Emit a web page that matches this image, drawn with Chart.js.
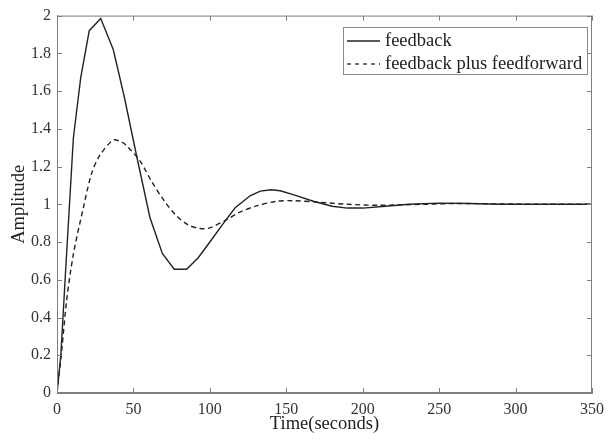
<!DOCTYPE html>
<html>
<head>
<meta charset="utf-8">
<script src="https://cdn.jsdelivr.net/npm/chart.js@4.4.0/dist/chart.umd.min.js"></script>
<style>
  html, body { margin: 0; padding: 0; background: #fff; }
  #wrap { width: 612px; height: 441px; }
</style>
</head>
<body>
<div id="wrap"><canvas id="step"></canvas></div>
<script>
// step response samples (time in seconds)
var fbTime = [0, 2.5, 5.3, 10.7, 15.5, 21.1, 28.6, 36.8, 44, 52, 60.8, 68.9, 76.7, 84.8,
              92.4, 100, 108, 116.4, 126.3, 133, 140, 146, 155, 167.7, 180, 190, 200,
              215, 230, 250, 270, 290, 320, 350];
var fbAmp  = [0, 0.2, 0.6, 1.35, 1.67, 1.92, 1.985, 1.82, 1.57, 1.26, 0.93, 0.74, 0.656, 0.656,
              0.717, 0.80, 0.89, 0.98, 1.045, 1.07, 1.077, 1.072, 1.05, 1.016, 0.99, 0.98, 0.98,
              0.99, 1.0, 1.006, 1.004, 1.0, 1.0, 1.0];

var ffTime = [0, 3.1, 6.3, 10.7, 17.2, 22.7, 28.1, 36.8, 42.3, 45.6, 54.3, 62, 70, 78, 86,
              93.5, 100, 111, 120, 130, 143.7, 154.4, 170, 190, 210, 240, 260, 290, 320, 350];
var ffAmp  = [0, 0.226, 0.49, 0.735, 0.98, 1.165, 1.26, 1.34, 1.33, 1.31, 1.23, 1.12, 1.02, 0.94, 0.89,
              0.872, 0.875, 0.919, 0.96, 0.99, 1.016, 1.019, 1.012, 1.0, 0.995, 1.0, 1.004, 1.002, 1.0, 1.0];

var seriesNames = ["feedback", "feedback plus feedforward"];
var xTickStep = 50;
var yTickStep = 0.2;

function pts(xs, ys) {
  return xs.map(function (x, i) { return { x: x, y: ys[i] }; });
}

var serif = "'Liberation Serif', 'Times New Roman', serif";
var axisGray = "#7f7f7f";

// matlab style box, inward ticks and legend inside the axes
var matlabBox = {
  id: "matlabBox",
  afterDraw: function (chart) {
    var ctx = chart.ctx, a = chart.chartArea;
    var xs = chart.scales.x, ys = chart.scales.y;
    ctx.save();
    ctx.strokeStyle = axisGray;
    ctx.lineWidth = 1;
    ctx.strokeRect(a.left + 0.5, a.top + 0.5, a.right - a.left - 1, a.bottom - a.top - 1);
    ctx.beginPath();
    xs.ticks.forEach(function (t) {
      var px = Math.round(xs.getPixelForValue(t.value)) + 0.5;
      ctx.moveTo(px, a.bottom); ctx.lineTo(px, a.bottom - 5);
      ctx.moveTo(px, a.top); ctx.lineTo(px, a.top + 5);
    });
    ys.ticks.forEach(function (t) {
      var py = Math.round(ys.getPixelForValue(t.value)) + 0.5;
      ctx.moveTo(a.left, py); ctx.lineTo(a.left + 5, py);
      ctx.moveTo(a.right, py); ctx.lineTo(a.right - 5, py);
    });
    ctx.stroke();

    // legend
    var lx = 343, ly = 27, lw = 244, lh = 47;
    ctx.fillStyle = "#fff";
    ctx.fillRect(lx, ly, lw, lh);
    ctx.strokeStyle = "#8a8a8a";
    ctx.strokeRect(lx + 0.5, ly + 0.5, lw, lh);
    ctx.font = "18.5px " + serif;
    ctx.textBaseline = "middle";
    ctx.fillStyle = "#222";
    chart.data.datasets.forEach(function (ds, i) {
      var cy = ly + 14 + i * 23;
      ctx.beginPath();
      ctx.strokeStyle = "#222";
      ctx.lineWidth = 1.3;
      ctx.setLineDash(ds.borderDash ? [4, 4] : []);
      ctx.moveTo(lx + 4, cy); ctx.lineTo(lx + 37, cy);
      ctx.stroke();
      ctx.setLineDash([]);
      ctx.fillText(ds.label, lx + 42, cy);
    });
    ctx.restore();
  }
};

new Chart(document.getElementById("step"), {
  type: "line",
  data: {
    datasets: [
      {
        label: seriesNames[0],
        data: pts(fbTime, fbAmp),
        borderColor: "#222",
        borderWidth: 1.4,
        pointRadius: 0,
        tension: 0,
        fill: false
      },
      {
        label: seriesNames[1],
        data: pts(ffTime, ffAmp),
        borderColor: "#222",
        borderWidth: 1.4,
        borderDash: [5, 3.5],
        pointRadius: 0,
        tension: 0.3,
        fill: false
      }
    ]
  },
  options: {
    responsive: true,
    maintainAspectRatio: false,
    animation: false,
    layout: { padding: { top: 13, right: 20, left: 0, bottom: 0 } },
    plugins: {
      legend: { display: false },
      tooltip: { enabled: false }
    },
    scales: {
      x: {
        type: "linear",
        min: 0, max: 350,
        ticks: { stepSize: xTickStep, color: "#333", font: { family: serif, size: 16 }, padding: 7, maxRotation: 0 },
        grid: { display: false, drawTicks: false },
        border: { display: true, color: axisGray },
        title: { display: true, text: "Time(seconds)", color: "#222", font: { family: serif, size: 18.5 }, padding: { top: 0, bottom: 6 } },
        afterFit: function (s) { s.height = 48; }
      },
      y: {
        min: 0, max: 2,
        ticks: {
          stepSize: yTickStep, color: "#333", font: { family: serif, size: 16 }, padding: 6,
          callback: function (v) { return String(Number(v.toFixed(1))); }
        },
        grid: { display: false, drawTicks: false },
        border: { display: true, color: axisGray },
        title: { display: true, text: "Amplitude", color: "#222", font: { family: serif, size: 18.5 }, padding: { top: 8, bottom: 0 } },
        afterFit: function (s) { s.width = 57; }
      }
    }
  },
  plugins: [matlabBox]
});
</script>
</body>
</html>
